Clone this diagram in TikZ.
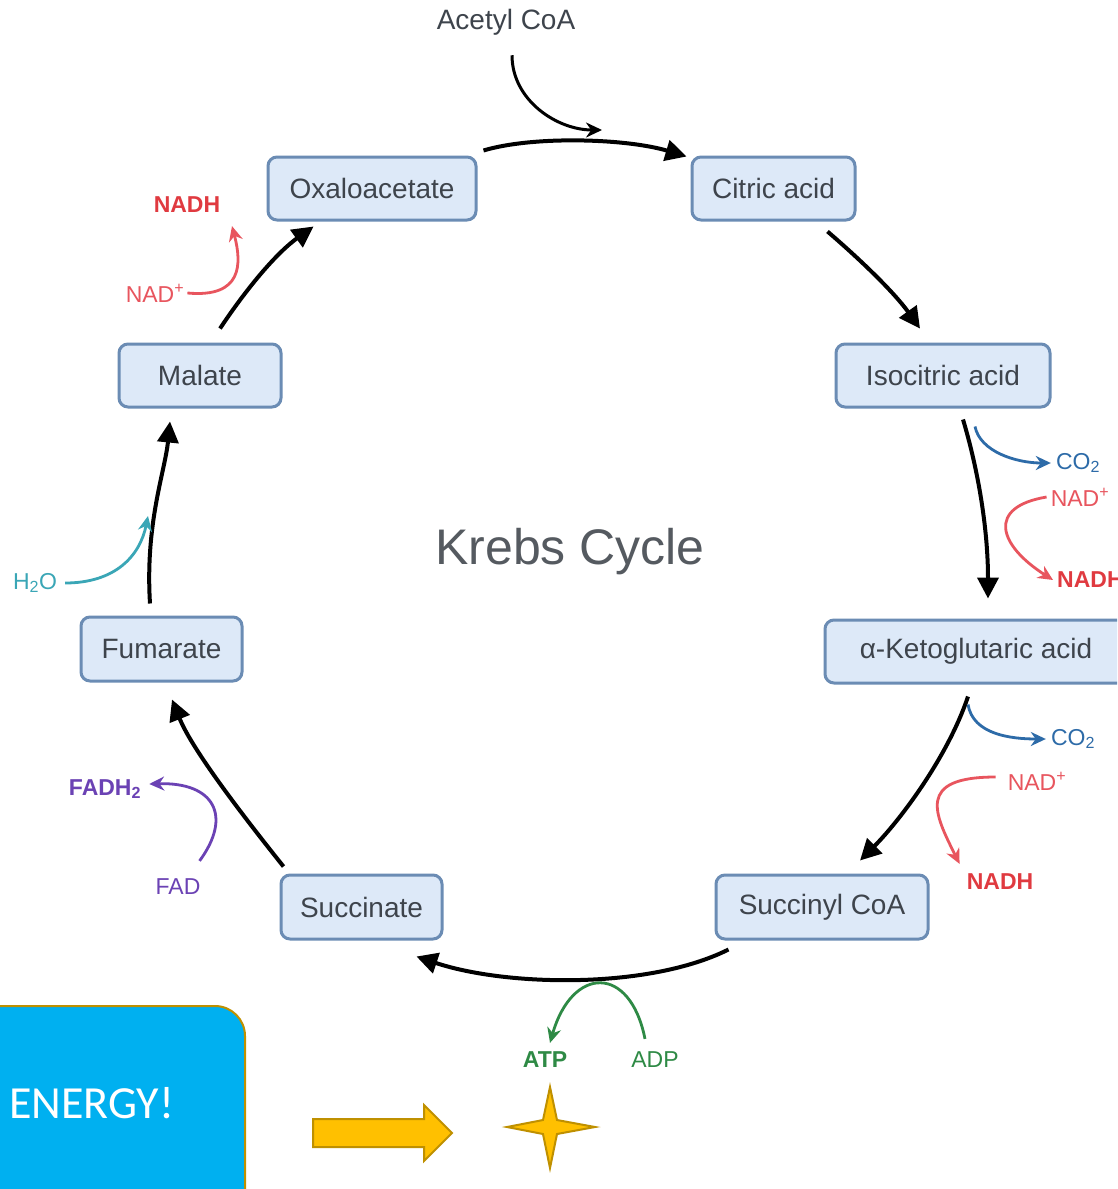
\documentclass[tikz,border=0pt]{standalone}
\usepackage{fontspec}
\setmainfont{Liberation Sans}
\newfontfamily\calfont{Carlito}
\usetikzlibrary{arrows.meta}
\definecolor{boxfill}{HTML}{DDE9F8}
\definecolor{boxline}{HTML}{6B8CB4}
\definecolor{txtgray}{HTML}{3E444C}
\definecolor{krebsgray}{HTML}{555A60}
\definecolor{nadred}{HTML}{E8555E}
\definecolor{nadhred}{HTML}{E03A40}
\definecolor{co2blue}{HTML}{2D6BA8}
\definecolor{atpgreen}{HTML}{2E8A45}
\definecolor{fadpurple}{HTML}{6B42B4}
\definecolor{h2oteal}{HTML}{3AA6B6}
\definecolor{energyblue}{HTML}{00B0F0}
\definecolor{goldline}{HTML}{BF9000}
\definecolor{goldfill}{HTML}{FFC000}
\begin{document}
\begin{tikzpicture}[x=1pt,y=-1pt,
  stage/.style={draw=boxline, fill=boxfill, line width=3pt, rounded corners=9pt,
    inner sep=0pt, minimum height=63pt, font=\fontsize{28}{30}\selectfont, text=txtgray},
  cyc/.style={line width=4pt, black, -{Triangle[length=21pt,width=21pt]}},
  side/.style={line width=2.8pt, -{Stealth[length=15pt,width=14pt]}},
  lbl/.style={font=\fontsize{23}{25}\selectfont, inner sep=0pt},
  blbl/.style={font=\fontsize{23}{25}\selectfont\bfseries, inner sep=0pt},
  gold/.style={draw=goldline, fill=goldfill, line width=2pt, line join=miter}
]
\clip (0,0) rectangle (1117,1189);
\fill[white] (0,0) rectangle (1117,1189);

% stages
\node[stage, minimum width=208pt] (oxa) at (372,188.5) {Oxaloacetate};
\node[stage, minimum width=163pt] (cit) at (773.5,188.5) {Citric acid};
\node[stage, minimum width=214pt] (iso) at (943,375.5) {Isocitric acid};
\node[stage, minimum width=302pt] (akg) at (976,651.5) {α-Ketoglutaric acid};
\node[stage, minimum width=212pt, minimum height=64pt] (sca) at (822,907) {Succinyl CoA};
\node[stage, minimum width=161pt, minimum height=64pt] (suc) at (361.5,907) {Succinate};
\node[stage, minimum width=161pt, minimum height=64pt] (fum) at (161.5,649) {Fumarate};
\node[stage, minimum width=162pt] (mal) at (200,375.5) {Malate};

\node[font=\fontsize{50}{52}\selectfont, text=krebsgray, inner sep=0pt] (title) at (570,552) {Krebs Cycle};

% cycle arrows
\draw[cyc] ([shift={(6,-5)}]oxa.north east) .. controls +(50,-15) and +(-60,-18) .. ([shift={(-4,1)}]cit.north west);
\draw[cyc] ([shift={(-29,10)}]cit.south east) .. controls +(35,30) and +(-25,-35) .. ([shift={(-23,-14)}]iso.north);
\draw[cyc] ([shift={(20,11)}]iso.south) .. controls +(15,50) and +(0,-70) .. ([shift={(12,-20)}]akg.north);
\draw[cyc] ([shift={(-8,12)}]akg.south) .. controls +(-20,60) and +(40,-40) .. ([shift={(38,-13)}]sca.north);
\draw[cyc] ([shift={(14,9)}]sca.south west) .. controls +(-80,40) and +(90,30) .. ([shift={(-27,16)}]suc.south east);
\draw[cyc] ([shift={(4,-7)}]suc.north west) .. controls +(-40,-50) and +(20,50) .. ([shift={(10.5,17)}]fum.south);
\draw[cyc] ([shift={(-11.5,-12)}]fum.north) .. controls +(-5,-80) and +(-5,50) .. ([shift={(-30,13)}]mal.south);
\draw[cyc] ([shift={(20,-14)}]mal.north) .. controls +(30,-45) and +(-35,25) .. ([shift={(47,5)}]oxa.south west);

% acetyl CoA
\node[inner sep=0pt, font=\fontsize{28}{30}\selectfont, text=txtgray] (acetyl) at (506,22) {Acetyl CoA};
\coordinate (acin) at (602,130);
\draw[line width=3pt, -{Stealth[length=16pt,width=15pt]}] ([shift={(6,20)}]acetyl.south) .. controls +(0,45) and +(-45,0) .. (acin);

% isocitric -> alpha-KG side products
\node[lbl, text=co2blue] (co2a) at (1078,463) {CO\textsubscript{2}};
\node[lbl, text=nadred] (nada) at (1080,497) {NAD\textsuperscript{+}};
\node[blbl, text=nadhred, anchor=west] (nadha) at (1057,580) {NADH};
\draw[side, co2blue] ([shift={(32,18)}]iso.south) .. controls +(5,25) and +(-35,0) .. ([xshift=-5pt]co2a.west);
\draw[side, nadred] ([xshift=-4pt]nada.west) .. controls +(-60,10) and +(-55,-35) .. ([xshift=-4pt]nadha.west);

% alpha-KG -> succinyl CoA side products
\node[lbl, text=co2blue] (co2b) at (1073,739) {CO\textsubscript{2}};
\node[lbl, text=nadred] (nadb) at (1037,781) {NAD\textsuperscript{+}};
\node[blbl, text=nadhred] (nadhb) at (1000,882) {NADH};
\draw[side, co2blue] ([shift={(-8,20)}]akg.south) .. controls +(5,30) and +(-35,0) .. ([xshift=-5pt]co2b.west);
\draw[side, nadred] ([shift={(-12,-4)}]nadb.west) .. controls +(-80,0) and +(-25,-50) .. ([shift={(-7,-10)}]nadhb.north west);

% ATP / ADP
\node[blbl, text=atpgreen] (atp) at (545,1060) {ATP};
\node[lbl, text=atpgreen] (adp) at (655,1060) {ADP};
\draw[side, atpgreen] ([shift={(-10,-13)}]adp.north) .. controls +(-15,-75) and +(22,-77) .. ([shift={(5,-9)}]atp.north);

% FAD
\node[lbl, text=fadpurple] (fad) at (178,887) {FAD};
\node[blbl, text=fadpurple] (fadh) at (105,789) {FADH\textsubscript{2}};
\draw[side, fadpurple] ([shift={(-1,-18)}]fad.north east) .. controls +(33,-45) and +(65,-2) .. ([shift={(8,-5)}]fadh.east);

% H2O
\node[lbl, text=h2oteal] (h2o) at (35,583) {H\textsubscript{2}O};
\coordinate (h2oin) at (148,516);
\draw[side, h2oteal] ([xshift=8pt]h2o.east) .. controls +(50,0) and +(-8,40) .. (h2oin);

% malate -> oxaloacetate NAD
\node[lbl, text=nadred] (nadc) at (155,293) {NAD\textsuperscript{+}};
\node[blbl, text=nadhred] (nadhc) at (187,205) {NADH};
\draw[side, nadred] ([xshift=3pt]nadc.east) .. controls +(55,5) and +(10,38) .. ([shift={(45,13)}]nadhc.south);

% ENERGY box
\draw[draw=goldline, fill=energyblue, line width=2pt, rounded corners=30pt] (-40,1006) rectangle (245,1240);
\node[font=\calfont\fontsize{46}{48}\selectfont, text=white, inner sep=0pt, anchor=west] (energy) at (9,1103) {ENERGY!};

% yellow arrow
\draw[gold] (313,1119) -- (424,1119) -- (424,1105) -- (452,1133) -- (424,1161) -- (424,1147) -- (313,1147) -- cycle;

% star
\draw[gold] (550,1087) -- (557,1120) -- (595,1127) -- (557,1134) -- (550,1168) -- (543,1134) -- (507,1127) -- (543,1120) -- cycle;
\end{tikzpicture}
\end{document}
